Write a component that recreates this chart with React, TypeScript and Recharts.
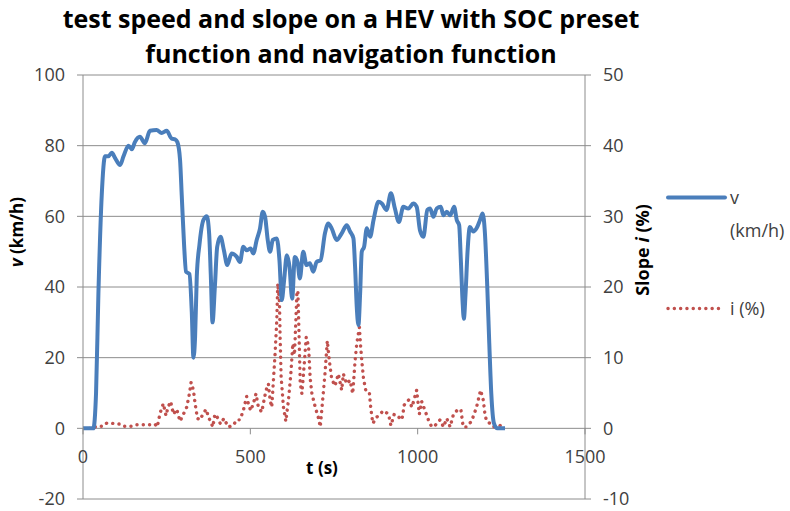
import React from 'react';
import { LineChart, Line, XAxis, YAxis, CartesianGrid } from 'recharts';

document.body.style.margin = '0';

const FONT = '"Open Sans", Lato, sans-serif';
const W = 790;
const H = 511;
const M = { top: 75, right: 145, bottom: 0, left: 0 };
const X_AXIS_H = 12;
const PLOT_H = H - M.top - M.bottom - X_AXIS_H;

const V_MIN = -20;
const V_MAX = 100;
const vTicks = [-20, 0, 20, 40, 60, 80, 100];
const iTicks = [-10, 0, 10, 20, 30, 40, 50];
const tTicks = [0, 500, 1000, 1500];

// speed v (km/h) against time t (s)
const speedT = [
  0, 20, 31, 39, 46, 56, 66, 76, 86, 96, 111, 121, 136, 146, 155, 170, 185, 200, 220, 235,
  250, 265, 275, 282, 290, 295, 302, 308, 318, 325, 330, 335, 340, 348, 360, 370, 377, 382, 387, 394,
  401, 411, 421, 431, 444, 459, 469, 479, 489, 501, 509, 519, 529, 537, 544, 552, 559, 567, 579, 587,
  594, 601, 609, 617, 625, 633, 641, 648, 658, 668, 678, 688, 698, 710, 723, 733, 743, 758, 773, 788,
  798, 808, 813, 818, 823, 828, 833, 840, 848, 858, 868, 883, 893, 907, 920, 932, 944, 957, 972, 987,
  997, 1007, 1017, 1029, 1037, 1047, 1057, 1069, 1077, 1087, 1097, 1109, 1117, 1124, 1129, 1134, 1138, 1143, 1149, 1156,
  1166, 1176, 1186, 1194, 1201, 1208, 1214, 1220, 1228, 1238, 1261,
];
const speedV = [
  0, 0, 0, 10, 38, 66, 77, 77, 78, 76.5, 74.5, 77, 80, 79, 81, 82.5, 80.7, 84.2, 84.4, 83.6,
  84.2, 82, 81.8, 81, 76, 66, 52, 44.3, 43.7, 33, 20, 26, 43, 52, 59, 60, 55, 43, 30, 40,
  51.4, 54.2, 50.4, 46.2, 49.5, 48.6, 47.1, 51.4, 50.4, 50.9, 49.5, 53.3, 56.6, 61.3, 59.9, 53.3, 50, 53.3, 53.7, 47.6,
  36.3, 42, 49, 45.7, 36.7, 48.5, 47.1, 42.4, 50, 46.2, 46.7, 44.3, 47.1, 47.6, 55.2, 58, 56.6, 53.3, 55.2, 57.5,
  55.7, 53.8, 45.7, 34.4, 29.2, 38, 50, 51.4, 56.6, 54.2, 58.9, 64.1, 63.6, 61.8, 66.5, 62.2, 58.4, 62.7, 62.2, 63.6,
  62.7, 56, 54.2, 61.8, 62.2, 59.9, 62.2, 62.7, 60.3, 61.3, 60.3, 62.7, 58.9, 57.5, 47.6, 36.3, 31, 38, 50, 57,
  55.7, 56.6, 58.9, 60.8, 55.2, 40, 24, 9.8, 1.4, 0, 0,
];

// slope i (%) against time t (s)
const slopeT = [
  0, 30, 40, 60, 71, 90, 110, 120, 150, 160, 200, 215, 222, 230, 240, 248, 254, 262, 270, 280,
  290, 300, 310, 318, 323, 330, 335, 342, 350, 358, 368, 375, 388, 394, 401, 411, 421, 434, 449, 459,
  469, 479, 489, 494, 501, 509, 517, 524, 534, 541, 547, 554, 559, 564, 569, 574, 579, 582, 587, 589,
  592, 599, 606, 614, 621, 627, 632, 639, 642, 645, 649, 654, 658, 667, 674, 679, 684, 694, 704, 709,
  717, 723, 730, 736, 743, 753, 763, 773, 778, 788, 798, 806, 813, 818, 826, 829, 833, 838, 846, 856,
  860, 866, 878, 898, 913, 920, 930, 943, 953, 960, 973, 983, 997, 1005, 1012, 1022, 1032, 1042, 1052, 1067,
  1077, 1087, 1097, 1107, 1117, 1129, 1136, 1146, 1161, 1176, 1188, 1196, 1201, 1206, 1216, 1226, 1246, 1256,
];
const slopeI = [
  0, 0, 0.3, 0.3, 0.75, 0.7, 0.6, 0.3, 0.3, 0.5, 0.5, 0.6, 0.2, 2.1, 3.5, 1.8, 3, 3.8, 2, 2.7,
  1, 2, 3, 4.9, 6.5, 5.4, 3.5, 1.4, 1.2, 2, 2.7, 1.6, 0.2, 2, 1.6, 0.6, 1.4, 0.2, 0.4, 1.2,
  1.2, 2.5, 4.5, 3.5, 2.5, 3.5, 4.9, 3, 2.3, 4, 5.4, 6.3, 4, 3, 6.8, 10.6, 15.3, 20.5, 18, 13,
  7.3, 3, 1, 4, 7.7, 12, 10.4, 19, 19.5, 14.3, 6.5, 4.9, 7.2, 12.9, 11.6, 7, 4.9, 3, 1.4, 0.2,
  4.5, 7.7, 12.4, 9.6, 7, 6, 7.7, 5.4, 7.7, 6.3, 6.8, 4.9, 9.6, 12, 14.3, 12, 9.6, 7.1, 5.1, 4.9,
  2.8, 0.7, 1.6, 2.5, 2, 0.4, 2, 1.6, 1.2, 3.3, 4, 3, 5.4, 2, 3.8, 2.5, 1.2, 0.2, 0.4, 1.2,
  0.2, 1.4, 0.2, 2, 2.5, 2.7, 0.2, 0.2, 1, 3, 5.4, 4, 2, 1, 0.7, 0.2, 0.4, 0,
];

const speedData = speedT.map((t, k) => ({ t, v: speedV[k] }));
const slopeData = slopeT.map((t, k) => ({ t, i: slopeI[k] }));

const GRID = '#8c8c8c';
const LABEL = '#404040';
const BLUE = '#4a7ebb';
const RED = '#c0504d';
const DOTS = '0.1 6.2';

const legendItems = [
  { name: 'v (km/h)', color: BLUE, width: 4, dash: undefined as string | undefined, len: 57 },
  { name: 'i (%)', color: RED, width: 3.4, dash: DOTS, len: 52 },
];

// x axis crosses at v = 0, so shift the tick marks and labels up
const XTick = (props: any) => {
  const { x, y, payload } = props;
  const zeroShift = PLOT_H * (0 - V_MIN) / (V_MAX - V_MIN);
  const y0 = y - 8 - zeroShift;
  return (
    <g>
      <line x1={x} x2={x} y1={y0} y2={y0 + 6} stroke={GRID} />
      <text x={x} y={y0 + 28} textAnchor="middle" dominantBaseline="central" fill={LABEL} fontSize={18} fontFamily={FONT}>
        {payload.value}
      </text>
    </g>
  );
};

const ChartLegend = () => (
  <div style={{ position: 'absolute', left: 666, top: 181, fontFamily: FONT, fontSize: 18, color: LABEL, lineHeight: '33px' }}>
    {legendItems.map((it, k) => (
      <div key={k} style={{ display: 'flex', alignItems: 'flex-start', marginBottom: k === 0 ? 45 : 0 }}>
        <svg width={64} height={33} style={{ flex: 'none' }}>
          <line x1={2} x2={2 + it.len} y1={16.5} y2={16.5} stroke={it.color} strokeWidth={it.width} strokeDasharray={it.dash} strokeLinecap="round" />
        </svg>
        <span style={{ width: 60 }}>{it.name}</span>
      </div>
    ))}
  </div>
);

const axisTitle = { position: 'absolute' as const, height: 24, lineHeight: '24px', textAlign: 'center' as const, fontWeight: 700, color: '#000' };

export default function App() {
  return (
    <div style={{ position: 'relative', width: W, height: H, background: '#fff', fontFamily: FONT }}>
      <div style={{ position: 'absolute', left: 0, top: 1, width: 702, textAlign: 'center', fontSize: 25, fontWeight: 700, lineHeight: '35px', color: '#000' }}>
        test speed and slope on a HEV with SOC preset
        <br />
        function and navigation function
      </div>
      <LineChart width={W} height={H} margin={M}>
        <CartesianGrid yAxisId="v" vertical={false} stroke={GRID} />
        <XAxis
          dataKey="t"
          type="number"
          domain={[0, 1500]}
          ticks={tTicks}
          height={X_AXIS_H}
          axisLine={false}
          tickLine={false}
          tick={<XTick />}
          allowDataOverflow
        />
        <YAxis
          yAxisId="v"
          domain={[V_MIN, V_MAX]}
          ticks={vTicks}
          width={83}
          tickSize={6}
          tickMargin={12}
          axisLine={{ stroke: GRID }}
          tickLine={{ stroke: GRID }}
          tick={{ fill: LABEL, fontSize: 18, fontFamily: FONT }}
        />
        <YAxis
          yAxisId="i"
          orientation="right"
          domain={[-10, 50]}
          ticks={iTicks}
          width={60}
          tickSize={6}
          tickMargin={12}
          axisLine={{ stroke: GRID }}
          tickLine={{ stroke: GRID }}
          tick={{ fill: LABEL, fontSize: 18, fontFamily: FONT, textAnchor: 'start' }}
        />
        <Line
          yAxisId="i"
          data={slopeData}
          dataKey="i"
          name="i (%)"
          type="linear"
          stroke={RED}
          strokeWidth={3.4}
          strokeDasharray={DOTS}
          strokeLinecap="round"
          dot={false}
          isAnimationActive={false}
        />
        <Line
          yAxisId="v"
          data={speedData}
          dataKey="v"
          name="v (km/h)"
          type="monotone"
          stroke={BLUE}
          strokeWidth={4}
          dot={false}
          isAnimationActive={false}
        />
      </LineChart>
      <ChartLegend />
      <div style={{ ...axisTitle, left: 17 - 60, top: 232 - 12, width: 120, transform: 'rotate(-90deg)', fontSize: 17 }}>
        <i>v</i> (km/h)
      </div>
      <div style={{ ...axisTitle, left: 642 - 70, top: 250 - 12, width: 140, transform: 'rotate(-90deg)', fontSize: 18 }}>
        Slope <i>i</i> (%)
      </div>
      <div style={{ ...axisTitle, left: 322 - 40, top: 468 - 12, width: 80, fontSize: 17 }}>
        t (s)
      </div>
    </div>
  );
}
